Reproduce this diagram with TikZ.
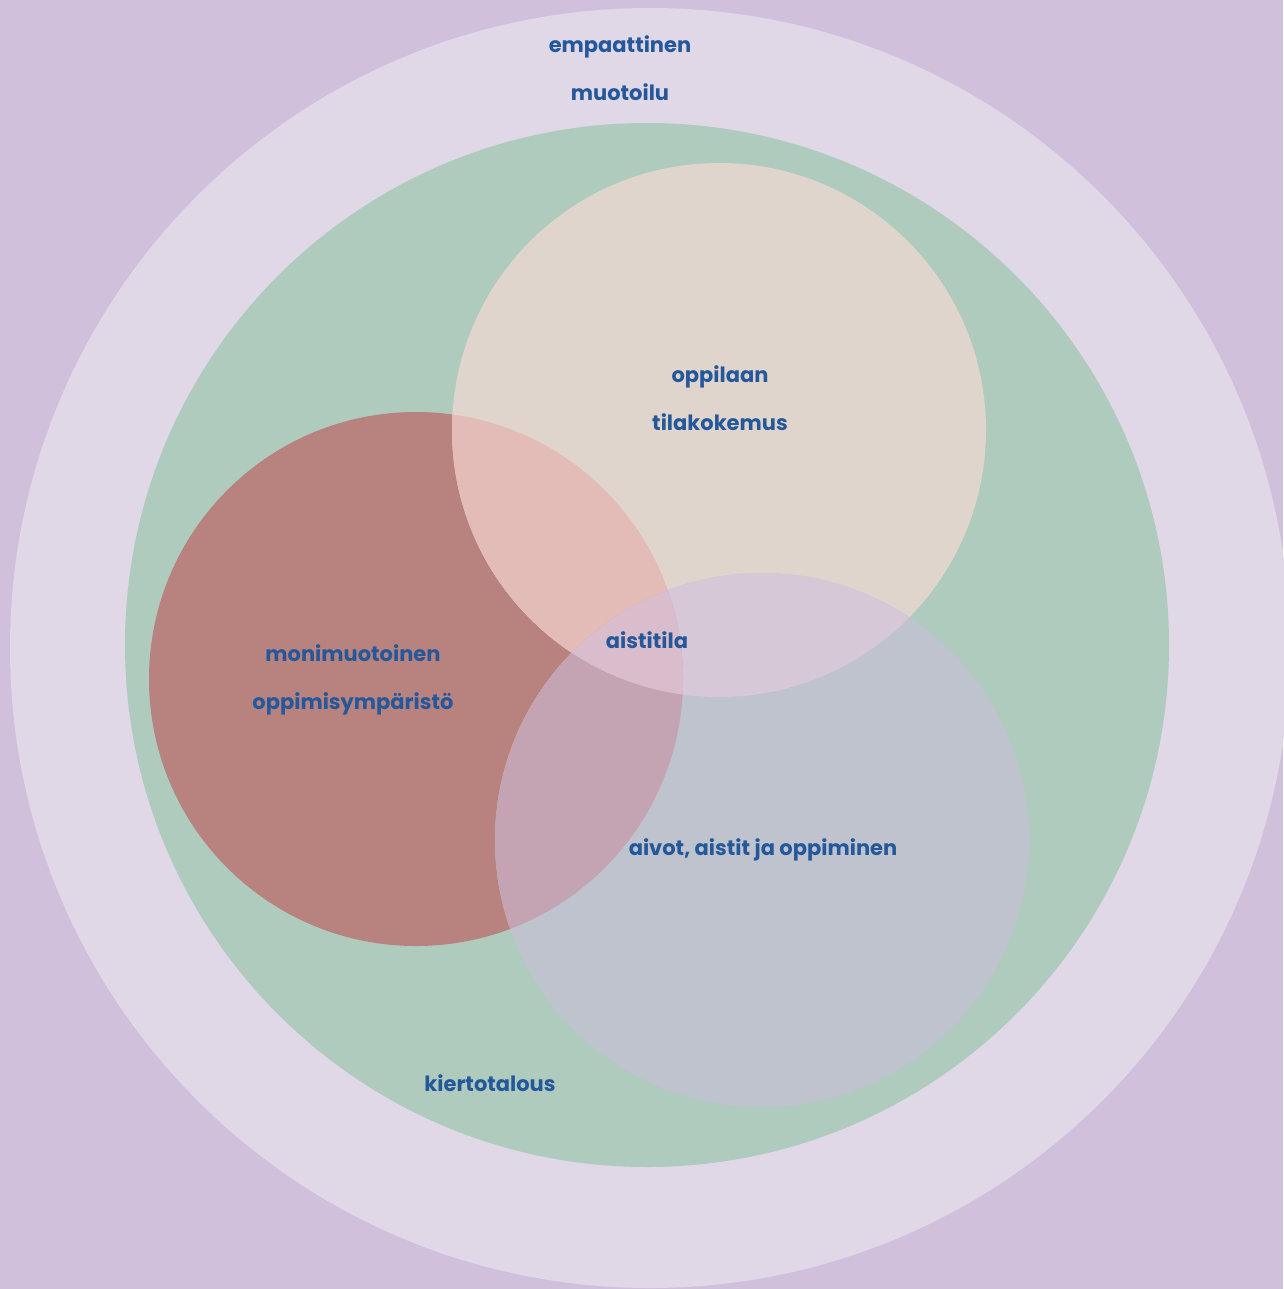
\documentclass[tikz,border=0pt]{standalone}
\usepackage{fontspec}
\newfontfamily\labfont{Poppins}
\definecolor{bgc}{HTML}{D0C0DC}
\definecolor{outc}{HTML}{E0D7E7}
\definecolor{greenc}{HTML}{AFCBBE}
\definecolor{beigec}{HTML}{E0D5CC}
\definecolor{redc}{HTML}{B8827E}
\definecolor{grayc}{HTML}{BFC3CE}
\definecolor{rbc}{HTML}{E4BCB7}
\definecolor{bgyc}{HTML}{D7C8D7}
\definecolor{rgyc}{HTML}{C4A4B3}
\definecolor{triplec}{HTML}{DABDCC}
\definecolor{labblue}{HTML}{24589A}
\begin{document}
\begin{tikzpicture}[x=1pt,y=-1pt,
  lab/.style={text=labblue,font=\labfont\bfseries\fontsize{21}{48}\selectfont,align=center,inner sep=0pt}]
\fill[bgc] (0,0) rectangle (1283,1289);
\useasboundingbox (0,0) rectangle (1283,1289);
\def\beigecirc{(719,430) circle (267pt)}
\def\redcirc{(416,679) circle (267pt)}
\def\graycirc{(762,840) circle (267pt)}
\fill[outc] (650,648) circle (640pt);
\fill[greenc] (647,645) circle (522pt);
\fill[redc] \redcirc;
\fill[beigec] \beigecirc;
\fill[grayc] \graycirc;
\begin{scope}\clip \redcirc; \fill[rbc] \beigecirc; \end{scope}
\begin{scope}\clip \beigecirc; \fill[bgyc] \graycirc; \end{scope}
\begin{scope}\clip \redcirc; \fill[rgyc] \graycirc; \end{scope}
\begin{scope}\clip \redcirc; \clip \beigecirc; \fill[triplec] \graycirc; \end{scope}
\node[lab] (emp) at (620,68) {empaattinen\\muotoilu};
\node[lab] (opp) at (720,398) {oppilaan\\tilakokemus};
\node[lab] (mon) at (353,680) {monimuotoinen\\oppimisympäristö};
\node[lab] (ais) at (647,640) {aistitila};
\node[lab] (aiv) at (763,850) {aivot, aistit ja oppiminen};
\node[lab] (kie) at (490,1083) {kiertotalous};
\end{tikzpicture}
\end{document}
